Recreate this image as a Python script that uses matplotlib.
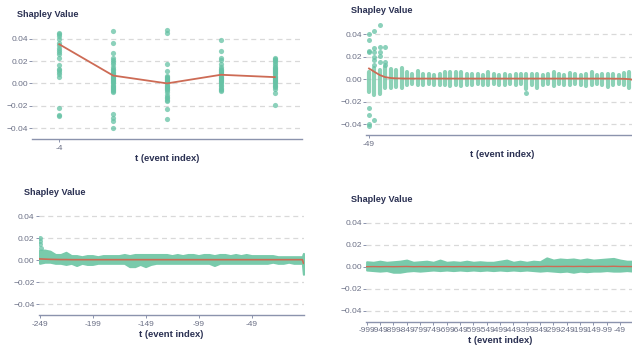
import numpy as np
import matplotlib.pyplot as plt

plt.rcParams['font.family'] = ['Liberation Sans', 'DejaVu Sans']

GREEN = '#66c2a5'
BAND = '#79caab'
RED = '#cd6b55'
AXIS = '#8b93ad'
TICK = '#6b7086'
NAVY = '#2a3052'
PX = 0.72  # points per pixel at dpi 100

y_ticks = [-0.04, -0.02, 0.0, 0.02, 0.04]
y_tick_labels = ['\u22120.04', '\u22120.02', '0.00', '0.02', '0.04']

# ---- window of 5 events: every sample drawn as a dot
p1_t = [-4, -3, -2, -1, 0]
p1_vals = [
    [0.045, 0.044, 0.042, 0.040, 0.036, 0.034, 0.032, 0.030, 0.028, 0.026,
     0.023, 0.016, 0.013, 0.012, 0.010, 0.008, 0.006, -0.022, -0.028, -0.029],
    [0.047, 0.036, 0.027, 0.023, 0.021, 0.019, 0.017, 0.015, 0.013, 0.012,
     0.010, 0.009, 0.008, 0.007, 0.006, 0.005, 0.004, 0.003, 0.002, 0.001,
     0.000, -0.001, -0.002, -0.003, -0.004, -0.005, -0.006, -0.007, -0.008,
     -0.027, -0.031, -0.034, -0.040],
    [0.048, 0.045, 0.0175, 0.011, 0.007, 0.006, 0.005, 0.004, 0.003, 0.002,
     0.001, 0.000, -0.001, -0.002, -0.003, -0.004, -0.005, -0.006, -0.008,
     -0.010, -0.012, -0.013, -0.015, -0.016, -0.0225, -0.032],
    [0.039, 0.029, 0.023, 0.021, 0.0175, 0.015, 0.013, 0.012, 0.011, 0.010,
     0.009, 0.008, 0.007, 0.006, 0.005, 0.004, 0.003, 0.002, 0.001, 0.000,
     -0.001, -0.002, -0.004, -0.005, -0.006, -0.007],
    [0.023, 0.022, 0.021, 0.020, 0.018, 0.016, 0.015, 0.014, 0.013, 0.012,
     0.011, 0.010, 0.009, 0.008, 0.007, 0.006, 0.005, 0.004, 0.003, 0.002,
     0.001, 0.000, -0.001, -0.002, -0.003, -0.005, -0.009, -0.0195],
]
p1_mean = [0.035, 0.007, 0.000, 0.0077, 0.0056]
p1_xticks = [-4]

# ---- window of 50 events: dense column per event + stray samples
p2_t = list(range(-49, 1))
p2_hi = [0.0065, 0.0095, 0.008, 0.011, 0.0086, 0.008, 0.0095,
         0.006, 0.005, 0.0075, 0.005, 0.005, 0.004, 0.005, 0.006, 0.0065, 0.006,
         0.006, 0.005, 0.005, 0.005, 0.004, 0.006, 0.005, 0.004, 0.005, 0.004,
         0.005, 0.005, 0.005, 0.0045, 0.005, 0.004, 0.005, 0.006, 0.005, 0.004,
         0.0055, 0.005, 0.004, 0.0045, 0.006, 0.004, 0.005, 0.0045, 0.005,
         0.004, 0.0055, 0.006, 0.020]
p2_lo = [-0.0113, -0.014, -0.0128, -0.008, -0.0083, -0.007, -0.008,
         -0.005, -0.004, -0.005, -0.005, -0.004, -0.005, -0.005, -0.005, -0.006,
         -0.005, -0.006, -0.005, -0.005, -0.004, -0.005, -0.005, -0.004, -0.005,
         -0.005, -0.004, -0.005, -0.004, -0.009, -0.005, -0.0075, -0.005, -0.004,
         -0.006, -0.004, -0.005, -0.005, -0.004, -0.005, -0.006, -0.005, -0.004,
         -0.005, -0.007, -0.005, -0.004, -0.005, -0.008, -0.015]
p2_out_t = [-49, -49, -49, -49, -49, -49, -49, -49,
            -48, -48, -48, -48, -48, -48, -48,
            -47, -47, -47, -47, -47,
            -46, -46, -46, -20]
p2_out_v = [0.040, 0.035, 0.025, 0.024, -0.026, -0.032, -0.040, -0.042,
            0.043, 0.028, 0.024, 0.020, 0.017, 0.0125, -0.0366,
            0.048, 0.029, 0.0245, 0.021, 0.0155,
            0.029, 0.0155, 0.0125, -0.0125]
p2_mean = [0.0095, 0.0065, 0.0036, 0.0018, 0.0010, 0.0007, 0.0006,
           0.0005, 0.0005, 0.0005, 0.0005, 0.0005, 0.0005, 0.0005, 0.0005,
           0.0005, 0.0005, 0.0005, 0.0005, 0.0005, 0.0005, 0.0005, 0.0005,
           0.0005, 0.0005, 0.0005, 0.0005, 0.0005, 0.0005, 0.0005, 0.0005,
           0.0005, 0.0005, 0.0005, 0.0005, 0.0005, 0.0005, 0.0005, 0.0005,
           0.0005, 0.0005, 0.0005, 0.0005, 0.0005, 0.0005, 0.0004, 0.0004,
           0.0003, 0.0000, -0.0010]
p2_xticks = [-49]

# ---- window of 250 events: spread envelope sampled every 5 events
p3_t = [-249, -244, -239, -234, -229, -224, -219, -214, -209, -204,
        -199, -194, -189, -184, -179, -174, -169, -164, -159, -154,
        -149, -144, -139, -134, -129, -124, -119, -114, -109, -104,
        -99, -94, -89, -84, -79, -74, -69, -64, -59, -54,
        -49, -44, -39, -34, -29, -24, -19, -14, -9, -4, -1, 0]
p3_hi = [0.009, 0.009, 0.008, 0.005, 0.005, 0.007, 0.004, 0.004, 0.003, 0.004,
         0.004, 0.003, 0.004, 0.004, 0.004, 0.004, 0.005, 0.004, 0.005, 0.005,
         0.005, 0.005, 0.005, 0.005, 0.005, 0.004, 0.005, 0.004, 0.005, 0.005,
         0.004, 0.005, 0.005, 0.004, 0.005, 0.005, 0.004, 0.005, 0.004, 0.005,
         0.004, 0.004, 0.004, 0.004, 0.004, 0.003, 0.003, 0.003, 0.003, 0.003,
         0.003, 0.006]
p3_lo = [-0.003, -0.002, -0.002, -0.003, -0.003, -0.004, -0.003, -0.005, -0.003, -0.004,
         -0.004, -0.003, -0.003, -0.003, -0.003, -0.003, -0.003, -0.006, -0.006, -0.004,
         -0.006, -0.004, -0.003, -0.003, -0.003, -0.003, -0.003, -0.003, -0.003, -0.003,
         -0.003, -0.003, -0.003, -0.005, -0.003, -0.003, -0.003, -0.003, -0.003, -0.003,
         -0.003, -0.003, -0.003, -0.003, -0.002, -0.003, -0.003, -0.002, -0.003, -0.003,
         -0.003, -0.013]
p3_mean = [0.0010, 0.0008, 0.0006, 0.0005, 0.0004, 0.0004, 0.0003, 0.0003, 0.0003, 0.0003,
           0.0003, 0.0003, 0.0003, 0.0003, 0.0003, 0.0003, 0.0003, 0.0003, 0.0003, 0.0003,
           0.0003, 0.0003, 0.0003, 0.0003, 0.0003, 0.0003, 0.0003, 0.0003, 0.0003, 0.0003,
           0.0003, 0.0003, 0.0003, 0.0003, 0.0003, 0.0003, 0.0003, 0.0003, 0.0003, 0.0003,
           0.0003, 0.0003, 0.0003, 0.0003, 0.0003, 0.0003, 0.0003, 0.0003, 0.0003, 0.0003,
           0.0003, -0.003]
p3_out_t = [-249, -249, -249, -248]
p3_out_v = [0.020, 0.017, 0.015, 0.011]
p3_xticks = [-249, -199, -149, -99, -49]

# ---- window of 1000 events: spread envelope sampled every 25 events
p4_t = [-999, -974, -949, -924, -899, -874, -849, -824, -799, -774,
        -749, -724, -699, -674, -649, -624, -599, -574, -549, -524,
        -499, -474, -449, -424, -399, -374, -349, -324, -299, -274,
        -249, -224, -199, -174, -149, -124, -99, -74, -49, -24, -1, 0]
p4_hi = [0.0045, 0.004, 0.005, 0.004, 0.0045, 0.005, 0.006, 0.004, 0.0045, 0.005,
         0.004, 0.006, 0.004, 0.0045, 0.004, 0.005, 0.004, 0.0045, 0.004, 0.004,
         0.005, 0.006, 0.004, 0.005, 0.004, 0.005, 0.0045, 0.008, 0.006, 0.007,
         0.0065, 0.007, 0.006, 0.007, 0.006, 0.0065, 0.007, 0.0075, 0.006, 0.005,
         0.005, 0.009]
p4_lo = [-0.003, -0.0035, -0.004, -0.0035, -0.005, -0.005, -0.004, -0.0035, -0.004, -0.0035,
         -0.003, -0.0035, -0.003, -0.0035, -0.003, -0.0035, -0.003, -0.0035, -0.003, -0.0035,
         -0.003, -0.0035, -0.003, -0.0035, -0.003, -0.0035, -0.004, -0.0035, -0.004, -0.0045,
         -0.004, -0.005, -0.004, -0.0045, -0.004, -0.004, -0.0035, -0.004, -0.004, -0.0035,
         -0.004, -0.006]
p4_mean = [0.0000, 0.0001, 0.0000, 0.0001, 0.0000, 0.0001, 0.0002, 0.0000, 0.0001, 0.0000,
           0.0001, 0.0000, 0.0001, 0.0000, 0.0001, 0.0000, 0.0001, 0.0000, 0.0001, 0.0000,
           0.0001, 0.0001, 0.0000, 0.0001, 0.0000, 0.0001, 0.0001, 0.0003, 0.0002, 0.0002,
           0.0003, 0.0002, 0.0003, 0.0002, 0.0003, 0.0003, 0.0002, 0.0004, 0.0002, 0.0002,
           0.0001, 0.0000]
p4_xticks = [-999, -949, -899, -849, -799, -749, -699, -649, -599, -549,
             -499, -449, -399, -349, -299, -249, -199, -149, -99, -49]


def style(ax, t0, xticks):
    ax.set_facecolor('none')
    ax.set_xlim(t0 - 0.5, 0.5)
    ax.set_ylim(-0.05, 0.05)
    for side in ['left', 'right', 'top']:
        ax.spines[side].set_visible(False)
    ax.spines['bottom'].set_color(AXIS)
    ax.spines['bottom'].set_linewidth(1.0)
    ax.set_yticks(y_ticks)
    ax.set_yticklabels(y_tick_labels)
    ax.yaxis.grid(True, linestyle=(0, (4, 3)), color='#d9d9d9', linewidth=0.9)
    ax.set_axisbelow(True)
    ax.set_xticks(xticks)
    ax.set_xticklabels([str(t) for t in xticks])
    ax.tick_params(axis='y', length=3 * PX, width=0.7, color=AXIS,
                   labelsize=6, labelcolor=TICK, pad=1)
    ax.tick_params(axis='x', length=3 * PX, width=0.7, color=AXIS,
                   labelsize=6, labelcolor=TICK, pad=2)
    ax.annotate('Shapley Value', xy=(0, 1), xycoords='axes fraction',
                xytext=(-15 * PX, 12.5 * PX), textcoords='offset points',
                ha='left', va='center', fontsize=6.6, fontweight='bold',
                color=NAVY)
    ax.annotate('t (event index)', xy=(0.5, 0), xycoords='axes fraction',
                xytext=(0, -19 * PX), textcoords='offset points',
                ha='center', va='center', fontsize=6.8, fontweight='bold',
                color=NAVY)


fig = plt.figure(figsize=(6.32, 3.47), dpi=100)
ax1 = fig.add_axes([0.0511, 0.5986, 0.4263, 0.3222])
ax2 = fig.add_axes([0.5796, 0.6101, 0.4293, 0.3236])
ax3 = fig.add_axes([0.0617, 0.0922, 0.4193, 0.3170])
ax4 = fig.add_axes([0.5799, 0.0729, 0.4222, 0.3170])

# panel 1
for t, vals in zip(p1_t, p1_vals):
    ax1.scatter([t] * len(vals), vals, s=14, color=GREEN, alpha=0.75,
                linewidths=0, zorder=2)
ax1.plot(p1_t, p1_mean, color=RED, lw=1.3, zorder=3)
style(ax1, -4, p1_xticks)

# panel 2
ax2.vlines(p2_t, p2_lo, p2_hi, color=BAND, lw=3.0, alpha=0.85,
           capstyle='round', zorder=2)
ax2.scatter(p2_out_t, p2_out_v, s=13, color=GREEN, alpha=0.75,
            linewidths=0, zorder=2)
ax2.plot(p2_t, p2_mean, color=RED, lw=1.3, zorder=3)
style(ax2, -49, p2_xticks)

# panel 3
ax3.fill_between(p3_t, p3_lo, p3_hi, color=BAND, lw=1.5,
                 edgecolor=BAND, zorder=2)
ax3.scatter(p3_out_t, p3_out_v, s=13, color=GREEN, alpha=0.75,
            linewidths=0, zorder=2)
ax3.plot(p3_t, p3_mean, color=RED, lw=1.2, zorder=3)
style(ax3, -249, p3_xticks)

# panel 4
ax4.fill_between(p4_t, p4_lo, p4_hi, color=BAND, lw=1.5,
                 edgecolor=BAND, zorder=2)
ax4.plot(p4_t, p4_mean, color=RED, lw=1.0, zorder=3)
style(ax4, -999, p4_xticks)

fig.savefig('out.png', dpi=100)
